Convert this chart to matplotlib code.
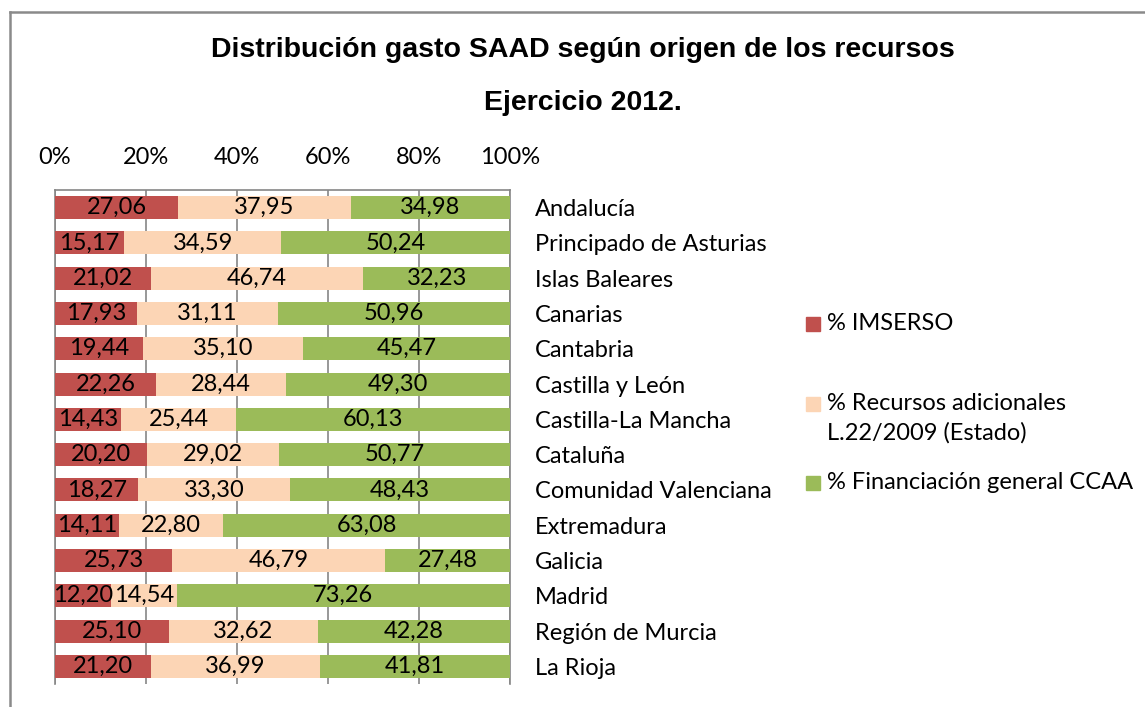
import matplotlib
matplotlib.use("Agg")
import matplotlib.pyplot as plt
from matplotlib.patches import Rectangle
from matplotlib.lines import Line2D
import numpy as np

categories = ["Andalucía", "Principado de Asturias", "Islas Baleares", "Canarias",
              "Cantabria", "Castilla y León", "Castilla-La Mancha", "Cataluña",
              "Comunidad Valenciana", "Extremadura", "Galicia", "Madrid",
              "Región de Murcia", "La Rioja"]
imserso = [27.06, 15.17, 21.02, 17.93, 19.44, 22.26, 14.43, 20.20, 18.27, 14.11, 25.73, 12.20, 25.10, 21.20]
recursos = [37.95, 34.59, 46.74, 31.11, 35.10, 28.44, 25.44, 29.02, 33.30, 22.80, 46.79, 14.54, 32.62, 36.99]
ccaa = [34.98, 50.24, 32.23, 50.96, 45.47, 49.30, 60.13, 50.77, 48.43, 63.08, 27.48, 73.26, 42.28, 41.81]
series_names = ["% IMSERSO", "% Recursos adicionales\nL.22/2009 (Estado)", "% Financiación general CCAA"]
colors = ["#C0504D", "#FCD5B5", "#9BBB59"]
xticks = [0, 20, 40, 60, 80, 100]
title1 = "Distribución gasto SAAD según origen de los recursos"
title2 = "Ejercicio 2012."

FONT = "Lato"
FS = 17
GRAY = "#868686"

fig = plt.figure(figsize=(11.45, 7.07), dpi=100)
W, H = 1145, 707

# outer frame
fig.add_artist(Line2D([10 / W, 10 / W], [0, 1 - 12 / H], color="#8a8a8a", lw=1.8, transform=fig.transFigure))
fig.add_artist(Line2D([10 / W, 1], [1 - 12 / H, 1 - 12 / H], color="#8a8a8a", lw=1.8, transform=fig.transFigure))

ax = fig.add_axes([55 / W, 1 - 684 / H, 455 / W, 494 / H])

data = np.array([imserso, recursos, ccaa], dtype=float)
totals = data.sum(axis=0)
pct = data / totals * 100
y = np.arange(len(categories))
left = np.zeros(len(categories))
for i in range(3):
    bars = ax.barh(y, pct[i], left=left, height=0.65, color=colors[i], zorder=3)
    labels = [f"{v:.2f}".replace(".", ",") for v in data[i]]
    ax.bar_label(bars, labels=labels, label_type="center", fontsize=FS, family=FONT, color="black", zorder=4)
    left += pct[i]

ax.set_xlim(0, 100)
ax.set_ylim(len(categories) - 0.5, -0.5)
ax.set_xticks(xticks)
ax.set_xticklabels([f"{t}%" for t in xticks], family=FONT, fontsize=FS)
ax.xaxis.tick_top()
ax.tick_params(axis="x", length=0, pad=16)
ax.set_yticks(y)
ax.set_yticklabels(categories, family=FONT, fontsize=FS)
ax.yaxis.tick_right()
ax.tick_params(axis="y", length=0, pad=18)
ax.grid(axis="x", color=GRAY, lw=1.2, zorder=1)
for s in ["left", "top", "right"]:
    ax.spines[s].set_color(GRAY)
    ax.spines[s].set_linewidth(1.2)
ax.spines["bottom"].set_visible(False)

fig.text(583 / W, 1 - 50 / H, title1, ha="center", va="center", family="Liberation Sans",
         fontweight="bold", fontsize=20.5)
fig.text(583 / W, 1 - 103 / H, title2, ha="center", va="center", family="Liberation Sans",
         fontweight="bold", fontsize=20.5)

# legend
leg_y = [324, 404, 483]
for name, c, yy in zip(series_names, colors, leg_y):
    fig.add_artist(Rectangle((806 / W, 1 - (yy + 7) / H), 14 / W, 14 / H, color=c, transform=fig.transFigure))
    fig.text(827 / W, 1 - (yy - 11) / H, name, ha="left", va="top", family=FONT, fontsize=FS, linespacing=1.45)

fig.savefig("out.png", dpi=100)
